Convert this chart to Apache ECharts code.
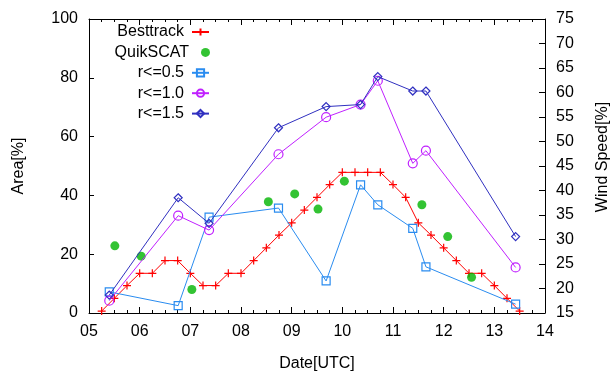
<!DOCTYPE html>
<html>
<head>
<meta charset="utf-8">
<script src="https://cdn.jsdelivr.net/npm/echarts@6/dist/echarts.min.js"></script>
<style>
  html, body { margin: 0; padding: 0; background: #fff; }
  #main { width: 611px; height: 373px; }
</style>
</head>
<body>
<div id="main"></div>
<script>
// day of month (UTC) -> values
const besttrackDays = [5.25, 5.5, 5.75, 6.0, 6.25, 6.5, 6.75, 7.0, 7.25, 7.5, 7.75, 8.0, 8.25, 8.5, 8.75, 9.0, 9.25, 9.5,
  9.75, 10.0, 10.25, 10.5, 10.75, 11.0, 11.25, 11.5, 11.75, 12.0, 12.25, 12.5, 12.75, 13.0, 13.25, 13.5]
const besttrackWind = [15.4, 18.0, 20.6, 23.1, 23.1, 25.7, 25.7, 23.1, 20.6, 20.6, 23.1, 23.1, 25.7, 28.3, 30.9, 33.4, 36.0, 38.6,
  41.2, 43.7, 43.7, 43.7, 43.7, 41.2, 38.6, 33.4, 30.9, 28.3, 25.7, 23.1, 23.1, 20.6, 18.0, 15.4]

const quikscatDays = [5.51, 6.03, 7.03, 8.54, 9.06, 9.52, 10.04, 11.57, 12.08, 12.55]
const quikscatWind = [28.7, 26.6, 19.8, 37.7, 39.3, 36.2, 41.9, 37.1, 30.6, 22.3]

const areaDays = [5.40, 6.76, 7.37, 8.74, 9.68, 10.36, 10.70, 11.39, 11.65, 13.42]
const area05 = [7.2, 2.5, 32.6, 35.7, 10.9, 43.6, 36.8, 28.8, 15.7, 3.0]
const area10 = [4.2, 33.1, 28.2, 54.0, 66.6, 70.9, 79.0, 50.9, 55.2, 15.5]
const area15 = [6.1, 39.2, 30.5, 63.0, 70.2, 70.9, 80.4, 75.5, 75.5, 26.0]

const pairs = (xs, ys) => xs.map((x, i) => [x, ys[i]])

const font = 'Liberation Sans, Arial, sans-serif'
const txt = { color: '#000', fontSize: 16, fontFamily: font }
const plus = 'path://M0,5L10,5M5,0L5,10'

const chart = echarts.init(document.getElementById('main'), null, { renderer: 'canvas' })

// one legend per row so the icons line up like gnuplot's key
const legendRows = ['Besttrack', 'QuikSCAT', 'r<=0.5', 'r<=1.0', 'r<=1.5']
const legends = legendRows.map((name, i) => ({
  data: [name],
  orient: 'vertical',
  align: 'right',
  right: 401,
  top: 24 + i * 20.4,
  padding: 0,
  itemWidth: 17,
  itemHeight: 9,
  textStyle: { ...txt, padding: [0, 3, 0, 0] },
  selectedMode: false
}))

const option = {
  animation: false,
  backgroundColor: '#fff',
  textStyle: { fontFamily: font },
  grid: { left: 89, right: 66, top: 19, bottom: 60, outerBoundsMode: 'none', containLabel: false },
  legend: legends,
  xAxis: [
    {
      type: 'value', min: 5, max: 14, interval: 1,
      name: 'Date[UTC]', nameLocation: 'middle', nameGap: 43, nameTextStyle: txt,
      axisLine: { show: true, onZero: false, lineStyle: { color: '#000', width: 1 } },
      axisTick: { inside: true, length: 6, lineStyle: { color: '#000' } },
      minorTick: { show: true, splitNumber: 4, length: 3, lineStyle: { color: '#000' } },
      axisLabel: { ...txt, margin: 11, formatter: v => (v < 10 ? '0' + v : '' + v) },
      splitLine: { show: false }
    },
    {
      type: 'value', min: 5, max: 14, interval: 1, position: 'top',
      axisLine: { show: true, onZero: false, lineStyle: { color: '#000', width: 1 } },
      axisTick: { inside: true, length: 6, lineStyle: { color: '#000' } },
      minorTick: { show: true, splitNumber: 4, length: 3, lineStyle: { color: '#000' } },
      axisLabel: { show: false },
      splitLine: { show: false }
    }
  ],
  yAxis: [
    {
      type: 'value', min: 0, max: 100, interval: 20,
      name: 'Area[%]', nameLocation: 'middle', nameGap: 62, nameTextStyle: txt,
      axisLine: { show: true, onZero: false, lineStyle: { color: '#000', width: 1 } },
      axisTick: { show: true, inside: true, length: 5, lineStyle: { color: '#000' } },
      axisLabel: { ...txt, margin: 11 },
      splitLine: { show: false }
    },
    {
      type: 'value', min: 15, max: 75, interval: 5, position: 'right',
      name: 'Wind Speed[%]', nameLocation: 'middle', nameGap: 50,
      nameTextStyle: { ...txt, padding: [0, 0, 0, 18] },
      axisLine: { show: true, onZero: false, lineStyle: { color: '#000', width: 1 } },
      axisTick: { show: true, inside: true, length: 6, lineStyle: { color: '#000' } },
      axisLabel: { ...txt, margin: 11 },
      splitLine: { show: false }
    }
  ],
  series: [
    {
      name: 'Besttrack', type: 'line', xAxisIndex: 0, yAxisIndex: 1,
      data: pairs(besttrackDays, besttrackWind),
      symbol: plus, symbolSize: 8, showAllSymbol: true,
      lineStyle: { color: '#ff0000', width: 1 },
      itemStyle: { color: '#ff0000', borderColor: '#ff0000', borderWidth: 1.2 },
      z: 2
    },
    {
      name: 'QuikSCAT', type: 'scatter', xAxisIndex: 0, yAxisIndex: 1,
      data: pairs(quikscatDays, quikscatWind),
      symbol: 'circle', symbolSize: 9,
      itemStyle: { color: '#00b400' },
      z: 3
    },
    {
      name: 'r<=0.5', type: 'line', xAxisIndex: 0, yAxisIndex: 0,
      data: pairs(areaDays, area05),
      symbol: 'rect', symbolSize: 8, showAllSymbol: true,
      lineStyle: { color: '#2a8cf0', width: 1 },
      itemStyle: { color: 'rgba(0,0,0,0)', borderColor: '#2a8cf0', borderWidth: 1.2 },
      z: 4
    },
    {
      name: 'r<=1.0', type: 'line', xAxisIndex: 0, yAxisIndex: 0,
      data: pairs(areaDays, area10),
      symbol: 'circle', symbolSize: 9, showAllSymbol: true,
      lineStyle: { color: '#c020ff', width: 1 },
      itemStyle: { color: 'rgba(0,0,0,0)', borderColor: '#c020ff', borderWidth: 1.2 },
      z: 5
    },
    {
      name: 'r<=1.5', type: 'line', xAxisIndex: 0, yAxisIndex: 0,
      data: pairs(areaDays, area15),
      symbol: 'diamond', symbolSize: 8, showAllSymbol: true,
      lineStyle: { color: '#3030c0', width: 1 },
      itemStyle: { color: 'rgba(0,0,0,0)', borderColor: '#3030c0', borderWidth: 1.2 },
      z: 6
    }
  ]
}

chart.setOption(option)
</script>
</body>
</html>
